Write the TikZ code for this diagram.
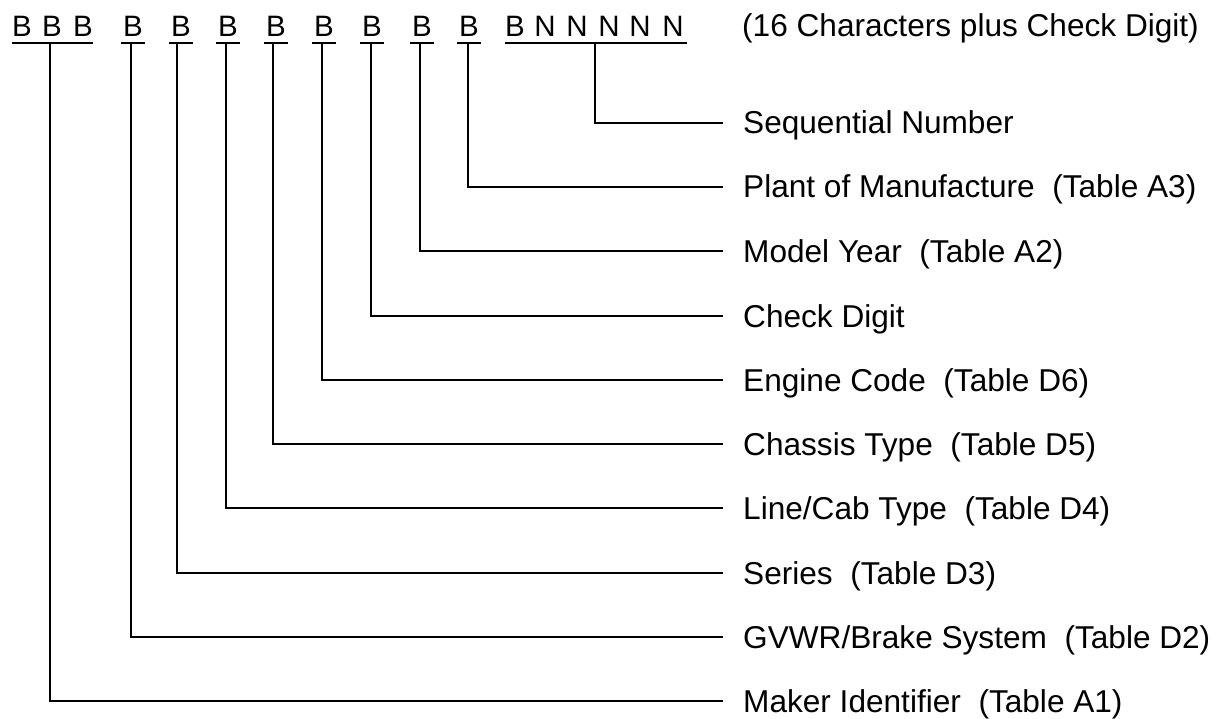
\documentclass[tikz,border=0pt]{standalone}
\usepackage{fontspec}
\setmainfont{Liberation Sans}
\begin{document}
\begin{tikzpicture}[x=1pt,y=-1pt,
  conn/.style={line width=1.8pt,line cap=butt,line join=miter},
  uline/.style={line width=1.8pt},
  chr/.style={inner sep=0pt,anchor=base,font=\fontsize{29.5}{34}\selectfont},
  lab/.style={inner sep=0pt,anchor=base west,font=\fontsize{31.6}{36}\selectfont}]
\useasboundingbox (0,0) rectangle (1225,719);
% top characters
\foreach \n/\x/\c in {c1/22/B,c2/52/B,c3/83/B,c4/133/B,c5/181/B,c6/228/B,c7/276/B,c8/324/B,c9/372/B,c10/422/B,c11/469/B,g1/515/B,g2/545/N,g3/577/N,g4/609/N,g5/640/N,g6/673/N}
  \node[chr] (\n) at (\x,37) {\c};
\node[inner sep=0pt,anchor=base west,font=\fontsize{31.6}{36}\selectfont] (title) at (742,37) {(16 Characters plus Check Digit)};
% underlines
\draw[uline] (12,43) -- (93,43);
\foreach \n in {c4,c5,c6,c7,c8,c9,c10,c11}
  \draw[uline] ([xshift=-1.5pt,yshift=-6pt]\n.base west) -- ([xshift=1.5pt,yshift=-6pt]\n.base east);
\draw[uline] (505,43) -- (687,43);
% tops of connectors
\coordinate (t1) at (595,43);
\coordinate (t2) at (468,43);
\coordinate (t3) at (420,43);
\coordinate (t4) at (371,43);
\coordinate (t5) at (322,43);
\coordinate (t6) at (273,43);
\coordinate (t7) at (226,43);
\coordinate (t8) at (177,43);
\coordinate (t9) at (131,43);
\coordinate (t10) at (50,43);
% ends of connectors
\foreach \i/\y in {1/123,2/187,3/251,4/316,5/380,6/444,7/508,8/573,9/637,10/701}
  \coordinate (e\i) at (723,\y);
% labels (baseline half a cap height below each line)
\node[lab] (l1) at (743,134) {Sequential Number};
\node[lab] (l2) at (743,198) {Plant of Manufacture\ \ (Table A3)};
\node[lab] (l3) at (743,262) {Model Year\ \ (Table A2)};
\node[lab] (l4) at (743,327) {Check Digit};
\node[lab] (l5) at (743,391) {Engine Code\ \ (Table D6)};
\node[lab] (l6) at (743,455) {Chassis Type\ \ (Table D5)};
\node[lab] (l7) at (743,519) {Line/Cab Type\ \ (Table D4)};
\node[lab] (l8) at (743,584) {Series\ \ (Table D3)};
\node[lab] (l9) at (743,648) {GVWR/Brake System\ \ (Table D2)};
\node[lab] (l10) at (743,712) {Maker Identifier\ \ (Table A1)};
% connectors
\foreach \i in {1,...,10}
  \draw[conn] (t\i) |- (e\i);
\end{tikzpicture}
\end{document}
